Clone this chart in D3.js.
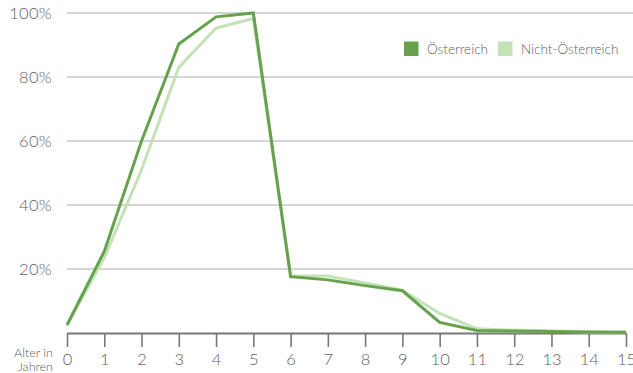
<!DOCTYPE html>
<html><head><meta charset="utf-8">
<script src="https://cdn.jsdelivr.net/npm/d3@7"></script>
<style>body{margin:0;background:#fff}svg{display:block}</style>
</head><body>
<svg id="c" width="633" height="373"></svg>
<script>
const ages = [0,1,2,3,4,5,6,7,8,9,10,11,12,13,14,15];
const oesterreich = [2.5,25.5,60,90.3,98.8,100,17.6,16.6,14.8,13.2,3.3,0.8,0.6,0.5,0.3,0.2];
const nichtOesterreich = [2.5,23.5,51,83,95.3,98.3,17.8,17.8,15.6,13.4,6.1,1.3,0.9,0.6,0.3,0.2];
const yTicks = [20,40,60,80,100];
const seriesNames = ["Österreich","Nicht-Österreich"];
const colors = ["#66a24d","#c4e2b6"];

const svg = d3.select("#c");
const font = "Lato, 'Open Sans', sans-serif";
const x = d3.scaleLinear().domain([0,15]).range([67,626]);
const y = d3.scaleLinear().domain([0,100]).range([333,13]);

// gridlines
svg.append("g").selectAll("line").data(yTicks).join("line")
  .attr("x1",67).attr("x2",633).attr("y1",d=>y(d)).attr("y2",d=>y(d))
  .attr("stroke","#aaaaaa").attr("stroke-width",1);
svg.append("g").selectAll("text").data(yTicks).join("text")
  .attr("x",52).attr("y",d=>y(d)+6).attr("text-anchor","end")
  .attr("font-family",font).attr("font-size",16.5).attr("font-weight",300).attr("fill","#606060")
  .attr("letter-spacing",0.3)
  .text(d=>d+"%");

// x axis
const xa = svg.append("g").attr("transform","translate(0,333)")
  .call(d3.axisBottom(x).tickValues(ages).tickSize(14).tickSizeOuter(0).tickPadding(6));
xa.select(".domain").attr("stroke","#777").attr("stroke-width",2);
xa.selectAll(".tick line").attr("stroke","#777").attr("stroke-width",1.6);
xa.selectAll(".tick text").attr("font-family",font).attr("font-size",16.5).attr("font-weight",300).attr("fill","#606060");

svg.append("text").attr("x",53).attr("y",357).attr("text-anchor","end")
  .attr("font-family",font).attr("font-size",12.5).attr("font-weight",300).attr("fill","#606060").text("Alter in");
svg.append("text").attr("x",53).attr("y",370.5).attr("text-anchor","end")
  .attr("font-family",font).attr("font-size",12.5).attr("font-weight",300).attr("fill","#606060").text("Jahren");

// lines
const line = d3.line().x((d,i)=>x(ages[i])).y(d=>y(d));
[nichtOesterreich, oesterreich].forEach((s,k)=>{
  svg.append("path").datum(s).attr("d",line).attr("fill","none")
    .attr("stroke", colors[1-k]).attr("stroke-width",3).attr("stroke-linejoin","miter");
});

// legend
const lg = svg.append("g");
const lx = [404, 498];
seriesNames.forEach((n,i)=>{
  lg.append("rect").attr("x",lx[i]).attr("y",41.5).attr("width",14.5).attr("height",14.5).attr("fill",colors[i]);
  lg.append("text").attr("x",lx[i]+23).attr("y",53.5).attr("font-family",font).attr("font-size",13.5)
    .attr("font-weight",300).attr("fill","#606060").text(n);
});
</script>
</body></html>
